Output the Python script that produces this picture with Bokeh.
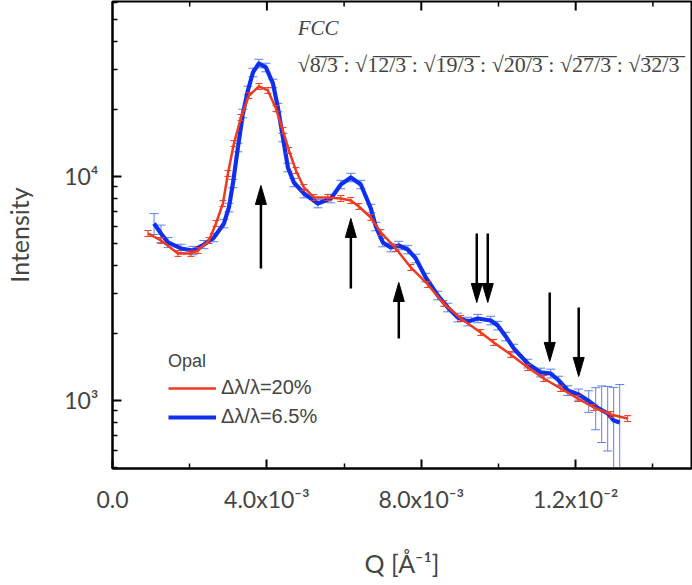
import numpy as np
from bokeh.plotting import figure
from bokeh.models import Range1d, FixedTicker, Legend, LegendItem, Label
from bokeh.embed import file_html
from bokeh.resources import INLINE

# ---------------- data ----------------
red_q_e3 = [0.919, 1.256, 1.696, 2.032, 2.214, 2.498, 2.680, 2.861, 2.990, 3.146,
            3.327, 3.534, 3.793, 4.026, 4.233, 4.414, 4.570, 4.751, 4.958, 5.217,
            5.579, 5.916, 6.175, 6.382, 6.693, 6.952, 7.340, 7.728, 8.168, 8.582,
            9.023, 9.540, 9.877, 10.317, 10.758, 11.172, 11.612, 12.053, 12.467, 12.907,
            13.347]
red_i = [5566, 5179, 4532, 4532, 4673, 5179, 6168, 7576, 10313, 14040,
         18340, 22990, 25220, 24210, 20120, 16050, 13066, 10637, 8932, 8058,
         8058, 7976, 7814, 7346, 6561, 5623, 4771, 3925, 3296, 2710,
         2323, 2012, 1816, 1605, 1404, 1254, 1131, 1021, 931, 866,
         831]
red_err = [170, 155, 135, 135, 140, 155, 185, 225, 310, 420,
           550, 690, 760, 730, 600, 480, 390, 320, 270, 240,
           240, 240, 235, 220, 195, 170, 145, 120, 100, 80,
           70, 60, 55, 48, 42, 38, 34, 31, 28, 26,
           25]

blue_q_e3 = [1.077, 1.256, 1.437, 1.773, 2.084, 2.369, 2.628, 2.887, 3.016, 3.120,
             3.249, 3.379, 3.508, 3.638, 3.793, 3.974, 4.156, 4.285, 4.414, 4.544,
             4.699, 4.958, 5.320, 5.657, 5.916, 6.175, 6.434, 6.693, 6.822, 7.003,
             7.210, 7.417, 7.650, 7.857, 8.116, 8.427, 8.686, 8.945, 9.204, 9.463,
             9.799, 9.981, 10.188, 10.395, 10.758, 11.094, 11.353, 11.561, 11.794, 12.078,
             12.337, 12.518, 12.673, 12.829, 12.984, 13.140]
blue_i = [6168, 5566, 5075, 4771, 4673, 4970, 5342, 6168, 7270, 9306,
          13475, 19110, 24210, 29130, 31950, 30670, 26020, 20320, 14933, 10970,
          9401, 8398, 7576, 7976, 9210, 9897, 9210, 7196, 5982, 5075,
          4819, 4920, 4721, 4305, 3541, 2943, 2602, 2347, 2253, 2323,
          2276, 2161, 1931, 1707, 1463, 1334, 1320, 1228, 1108, 1064,
          995, 940, 905, 875, 814, 798]
blue_err = [660, 500, 260, 210, 200, 210, 230, 270, 320, 400,
            590, 840, 1060, 1280, 1400, 1350, 1140, 890, 650, 480,
            410, 370, 330, 350, 400, 430, 400, 315, 260, 220,
            210, 215, 205, 190, 155, 130, 115, 105, 100, 100,
            100, 95, 85, 75, 65, 60, 60, 55, 55, 60,
            110, 200, 256, 280, 330, 380]

# peak-marker arrows: Q position, tail intensity, tip intensity
arrow_q_e3 = [3.845, 6.175, 7.417, 9.437, 9.722, 11.327, 12.078]
arrow_tail = [3885, 3162, 1891, 5566, 5566, 3035, 2602]
arrow_tip = [9118, 6494, 3363, 2738, 2738, 1494, 1280]

x_ticks = [0.0, 0.004, 0.008, 0.012]
x_minor = [0.002, 0.006, 0.010, 0.014]
x_tick_labels = ["0.0", "4.0x10\u207b\u00b3", "8.0x10\u207b\u00b3", "1.2x10\u207b\u00b2"]
y_ticks = [1000, 10000]
y_tick_labels = ["10\u00b3", "10\u2074"]

series_labels = ["\u0394\u03bb/\u03bb=20%", "\u0394\u03bb/\u03bb=6.5%"]
legend_title = "Opal"
fcc_title = "FCC"
ratios = ["8/3", "12/3", "19/3", "20/3", "27/3", "32/3"]

# ---------------- figure ----------------
X0, X1 = 0.0, 0.015
Y0, Y1 = 497.0, 60400.0
W, H = 692, 585
BL, BR, BT, BB = 112, 1, 1, 117

p = figure(width=W, height=H, output_backend="svg", toolbar_location=None,
           x_range=Range1d(X0, X1), y_range=Range1d(Y0, Y1), y_axis_type="log",
           min_border_left=BL, min_border_right=BR, min_border_top=BT, min_border_bottom=BB,
           background_fill_color="white", border_fill_color="white")
p.grid.visible = False
p.outline_line_color = "black"
p.outline_line_width = 2

frame_w = W - BL - BR
frame_h = H - BT - BB
px_per_q = frame_w / (X1 - X0)
px_per_dec = frame_h / np.log10(Y1 / Y0)

red_q = np.array(red_q_e3) * 1e-3
blue_q = np.array(blue_q_e3) * 1e-3
RED = "#ee3a1e"
BLUE = "#0f2ff0"
BLUE_ERR = "#5b80ec"

def errbars(q, i, e, color, cap):
    i = np.array(i, dtype=float)
    e = np.array(e, dtype=float)
    hi = i + e
    lo = np.maximum(i - e, 1.0)
    p.segment(x0=q, y0=lo, x1=q, y1=hi, line_color=color, line_width=1)
    p.scatter(x=q, y=hi, marker="dash", size=cap, line_color=color, line_width=1)
    p.scatter(x=q, y=lo, marker="dash", size=cap, line_color=color, line_width=1)

errbars(blue_q, blue_i, blue_err, BLUE_ERR, 9)
blue_line = p.line(blue_q, blue_i, line_color=BLUE, line_width=4.2, line_join="round")
errbars(red_q, red_i, red_err, RED, 7)
red_line = p.line(red_q, red_i, line_color=RED, line_width=2.5, line_join="round")

# arrows (shaft + narrow filled head)
head_half_w = 5.5 / px_per_q
head_len_dec = 19.0 / px_per_dec
aq = np.array(arrow_q_e3) * 1e-3
tail = np.array(arrow_tail, dtype=float)
tip = np.array(arrow_tip, dtype=float)
direction = np.sign(np.log10(tip / tail))
base = tip / 10 ** (direction * head_len_dec)
p.segment(x0=aq, y0=tail, x1=aq, y1=base, line_color="black", line_width=2.5)
xs = [[q - head_half_w, q, q + head_half_w] for q in aq]
ys = [[b, t, b] for b, t in zip(base, tip)]
p.patches(xs, ys, fill_color="black", line_color="black", line_width=1)

# top-edge tick marks (mirror of the bottom axis ticks, pointing inward)
top_major = [t for t in x_ticks if t > X0]
p.segment(x0=top_major, y0=[Y1] * len(top_major), x1=top_major,
          y1=[Y1 / 10 ** (9 / px_per_dec)] * len(top_major), line_color="black", line_width=2)
p.segment(x0=x_minor, y0=[Y1] * len(x_minor), x1=x_minor,
          y1=[Y1 / 10 ** (5 / px_per_dec)] * len(x_minor), line_color="black", line_width=1.5)

# axes styling
TICK_FONT = "Lato"
ax = p.xaxis[0]
ax.ticker = FixedTicker(ticks=x_ticks, minor_ticks=x_minor)
ax.major_label_overrides = {t: l for t, l in zip(x_ticks, x_tick_labels)}
ax.axis_label = "Q [\u00c5\u207b\u00b9]"
ay = p.yaxis[0]
ay.ticker = FixedTicker(ticks=y_ticks,
                        minor_ticks=[k * 10 ** n for n in (2, 3, 4) for k in range(2, 10)])
ay.major_label_overrides = {t: l for t, l in zip(y_ticks, y_tick_labels)}
ay.axis_label = "Intensity"

for a in (ax, ay):
    a.axis_line_width = 2
    a.major_tick_line_width = 2
    a.minor_tick_line_width = 1.5
    a.major_tick_in = 9
    a.major_tick_out = 0
    a.minor_tick_in = 5
    a.minor_tick_out = 0
    a.major_label_text_font = TICK_FONT
    a.major_label_text_font_size = "23px"
    a.axis_label_text_font = TICK_FONT
    a.axis_label_text_font_size = "25px"
    a.axis_label_text_font_style = "normal"
ax.major_label_standoff = 16
ax.axis_label_standoff = 32
ay.major_label_standoff = 14
ay.axis_label_standoff = 27

# legend
legend = Legend(items=[LegendItem(label=series_labels[0], renderers=[red_line]),
                       LegendItem(label=series_labels[1], renderers=[blue_line])],
                title=legend_title, location=(56, 40),
                background_fill_alpha=0, border_line_alpha=0, padding=0, margin=0,
                spacing=6, glyph_width=48, glyph_height=20, label_height=20,
                label_standoff=5, title_standoff=4,
                label_text_font="Liberation Sans", label_text_font_size="20px",
                title_text_font="Liberation Sans", title_text_font_size="18px",
                title_text_font_style="normal")
p.add_layout(legend)

# FCC annotation
p.add_layout(Label(x=4.80e-3, y=45800, text=fcc_title, text_font="Liberation Serif",
                   text_font_style="italic", text_font_size="21px", text_baseline="middle"))
ov = "\u0305"
sq = " : ".join("\u221a" + "".join(c + ov for c in r) for r in ratios)
p.add_layout(Label(x=4.80e-3, y=31600, text=sq, text_font="Liberation Serif",
                   text_font_size="22px", text_baseline="middle"))

open("out.html", "w").write(file_html(p, INLINE))
